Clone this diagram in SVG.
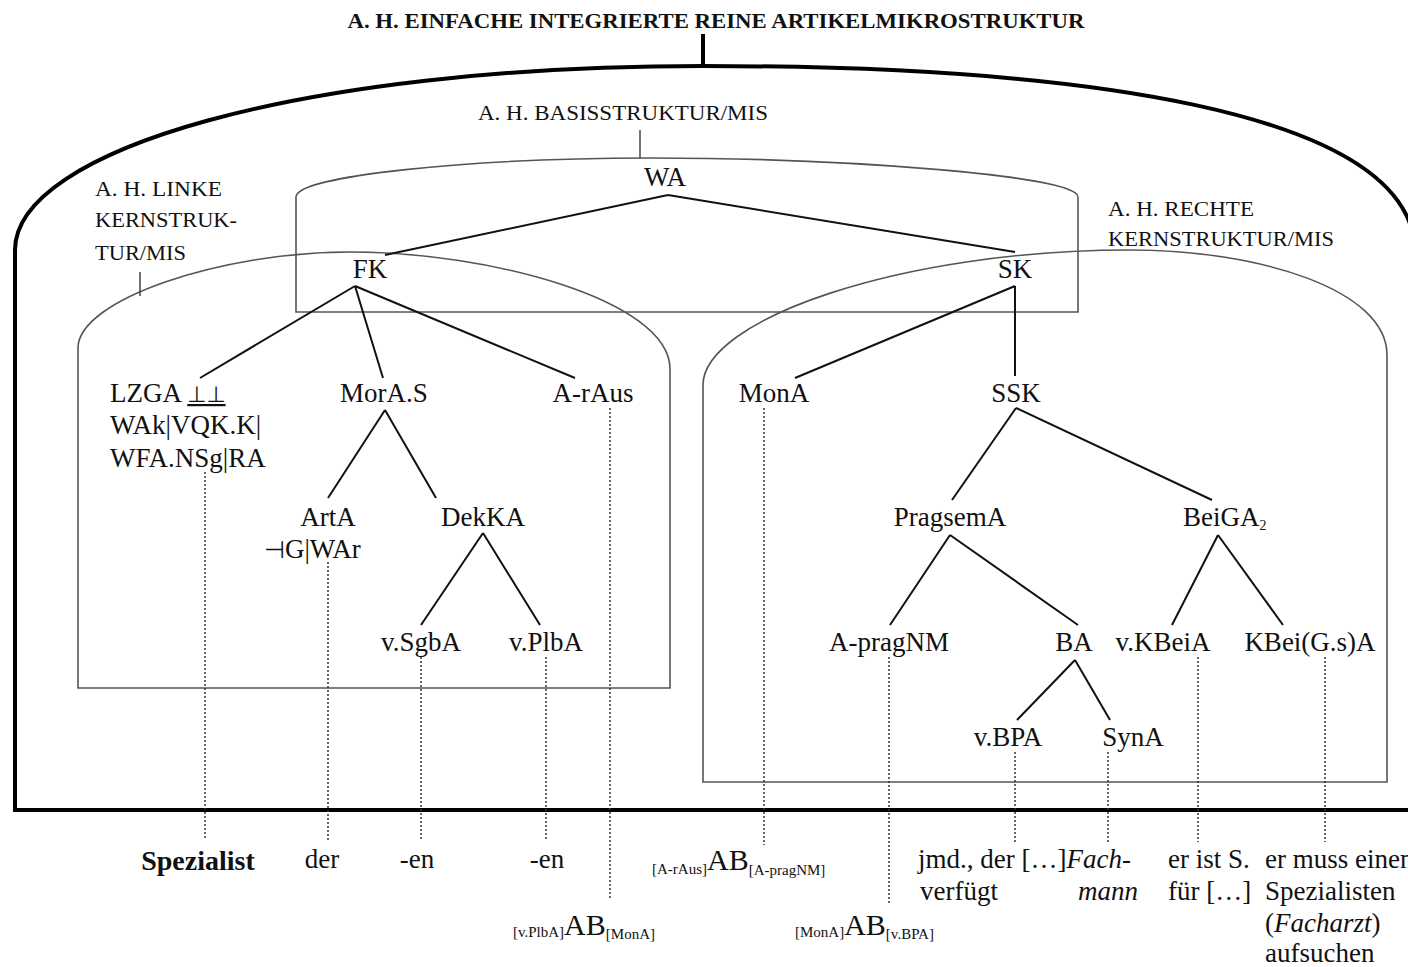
<svg xmlns="http://www.w3.org/2000/svg" width="1408" height="967" viewBox="0 0 1408 967">
<style>
text{font-family:"Liberation Serif","Times New Roman",serif;fill:#111}
.n{font-size:27px;text-anchor:middle}
.nl{font-size:27px}
.lab{font-size:20px}
.b{font-size:27px}
.sub{font-size:15px}
.ab{font-size:30px}
.tree{stroke:#111;stroke-width:2;fill:none}
.dot{stroke:#333;stroke-width:1.5;stroke-dasharray:2,2;fill:none}
.box{stroke:#555;stroke-width:1.6;fill:none}
</style>
<rect width="1408" height="967" fill="#fff"/>
<g id="outer">
<path d="M15,810 L15,250 C15,150 300,66 703,66 C1100,66 1380,115 1412,230 L1412,810 Z" fill="none" stroke="#000" stroke-width="4"/>
<line x1="703" y1="34" x2="703" y2="66" stroke="#000" stroke-width="4"/>
<text x="716" y="28" font-weight="bold" font-size="21" text-anchor="middle" textLength="737" lengthAdjust="spacingAndGlyphs">A. H. EINFACHE INTEGRIERTE REINE ARTIKELMIKROSTRUKTUR</text>
</g>
<g id="basis">
<path class="box" stroke="#777" d="M296,312 V197 C296,176 470,158 650,158 C850,158 1078,176 1078,197 V312 Z"/>
<line x1="640" y1="130" x2="640" y2="158" stroke="#444" stroke-width="1.5"/>
<text class="lab" x="478" y="120" textLength="290" lengthAdjust="spacingAndGlyphs">A. H. BASISSTRUKTUR/MIS</text>
</g>
<g id="linke">
<path class="box" d="M78,688 V348 C78,300 220,252 350,252 C490,252 668,300 670,368 V688 Z"/>
<line x1="140" y1="272" x2="140" y2="296" stroke="#444" stroke-width="1.5"/>
<text class="lab" x="95" y="196" textLength="127" lengthAdjust="spacingAndGlyphs">A. H. LINKE</text>
<text class="lab" x="95" y="227" textLength="142" lengthAdjust="spacingAndGlyphs">KERNSTRUK-</text>
<text class="lab" x="95" y="260" textLength="91" lengthAdjust="spacingAndGlyphs">TUR/MIS</text>
</g>
<g id="rechte">
<path class="box" d="M703,782 V385 C703,320 900,250 1130,250 C1260,250 1387,290 1387,355 V782 Z"/>
<text class="lab" x="1108" y="216" textLength="146" lengthAdjust="spacingAndGlyphs">A. H. RECHTE</text>
<text class="lab" x="1108" y="246" textLength="226" lengthAdjust="spacingAndGlyphs">KERNSTRUKTUR/MIS</text>
</g>
<g id="connectors">
<path class="tree" d="M668,195 L385,255 M668,195 L1015,252"/>
<path class="tree" d="M355,286 L200,378 M355,286 L383,378 M355,286 L575,378"/>
<path class="tree" d="M1015,286 L795,378 M1015,286 L1015,376"/>
<path class="tree" d="M385,410 L328,498 M385,410 L436,498"/>
<path class="tree" d="M483,533 L421,625 M483,533 L540,625"/>
<path class="tree" d="M1016,408 L952,500 M1016,408 L1212,500"/>
<path class="tree" d="M950,535 L890,625 M950,535 L1078,625"/>
<path class="tree" d="M1218,535 L1172,625 M1218,535 L1283,625"/>
<path class="tree" d="M1075,660 L1017,720 M1075,660 L1110,720"/>
<path class="dot" d="M205,472 V840 M328,562 V840 M421,657 V840 M546,657 V840 M610,408 V900 M764,408 V845 M889,657 V905 M1015,752 V842 M1108,752 V842 M1198,657 V842 M1325,657 V842"/>
</g>
<g id="WA"><text class="n" x="665" y="186">WA</text></g>
<g id="FK"><text class="n" x="370" y="278">FK</text></g>
<g id="SK"><text class="n" x="1015" y="278">SK</text></g>
<g id="LZGA">
<text class="nl" x="110" y="402">LZGA <tspan font-family="DejaVu Sans" font-size="22" text-decoration="underline">⊥⊥</tspan></text>
<text class="nl" x="110" y="434">WAk|VQK.K|</text>
<text class="nl" x="110" y="467">WFA.NSg|RA</text>
</g>
<g id="MorAS"><text class="n" x="384" y="402">MorA.S</text></g>
<g id="ArAus"><text class="n" x="593" y="402">A-rAus</text></g>
<g id="MonA"><text class="n" x="774" y="402">MonA</text></g>
<g id="SSK"><text class="n" x="1016" y="402">SSK</text></g>
<g id="ArtA">
<text class="n" x="328" y="526">ArtA</text>
<text class="nl" x="264" y="558"><tspan font-family="DejaVu Sans" font-size="24">⊣</tspan>G|WAr</text>
</g>
<g id="DekKA"><text class="n" x="483" y="526">DekKA</text></g>
<g id="PragsemA"><text class="n" x="950" y="526">PragsemA</text></g>
<g id="BeiGA2"><text class="nl" x="1183" y="526">BeiGA<tspan font-size="14" dy="4">2</tspan></text></g>
<g id="vSgbA"><text class="n" x="421" y="651">v.SgbA</text></g>
<g id="vPlbA"><text class="n" x="546" y="651">v.PlbA</text></g>
<g id="ApragNM"><text class="n" x="889" y="651">A-pragNM</text></g>
<g id="BA"><text class="n" x="1074" y="651">BA</text></g>
<g id="vKBeiA"><text class="n" x="1163" y="651">v.KBeiA</text></g>
<g id="KBeiGsA"><text class="n" x="1310" y="651">KBei(G.s)A</text></g>
<g id="vBPA"><text class="n" x="1008" y="746">v.BPA</text></g>
<g id="SynA"><text class="n" x="1133" y="746">SynA</text></g>
<g id="bottom">
<text x="198" y="870" font-size="28" font-weight="bold" text-anchor="middle">Spezialist</text>
<text class="b" x="322" y="868" text-anchor="middle">der</text>
<text class="b" x="417" y="868" text-anchor="middle">-en</text>
<text class="b" x="547" y="868" text-anchor="middle">-en</text>
<text x="652" y="870"><tspan class="sub" dy="4">[A-rAus]</tspan><tspan class="ab" dy="-4">AB</tspan><tspan class="sub" dy="5">[A-pragNM]</tspan></text>
<text x="513" y="935"><tspan class="sub" dy="2">[v.PlbA]</tspan><tspan class="ab" dy="-2">AB</tspan><tspan class="sub" dy="4">[MonA]</tspan></text>
<text x="795" y="935"><tspan class="sub" dy="2">[MonA]</tspan><tspan class="ab" dy="-2">AB</tspan><tspan class="sub" dy="4">[v.BPA]</tspan></text>
<text class="b" x="918" y="868">jmd., der […]<tspan font-style="italic">Fach-</tspan></text>
<text class="b" x="920" y="900">verfügt</text>
<text class="b" x="1138" y="900" font-style="italic" text-anchor="end">mann</text>
<text class="b" x="1168" y="868">er ist S.</text>
<text class="b" x="1168" y="900">für […]</text>
<text class="b" x="1265" y="868">er muss einen</text>
<text class="b" x="1265" y="900">Spezialisten</text>
<text class="b" x="1265" y="932">(<tspan font-style="italic">Facharzt</tspan>)</text>
<text class="b" x="1265" y="962">aufsuchen</text>
</g>
</svg>
